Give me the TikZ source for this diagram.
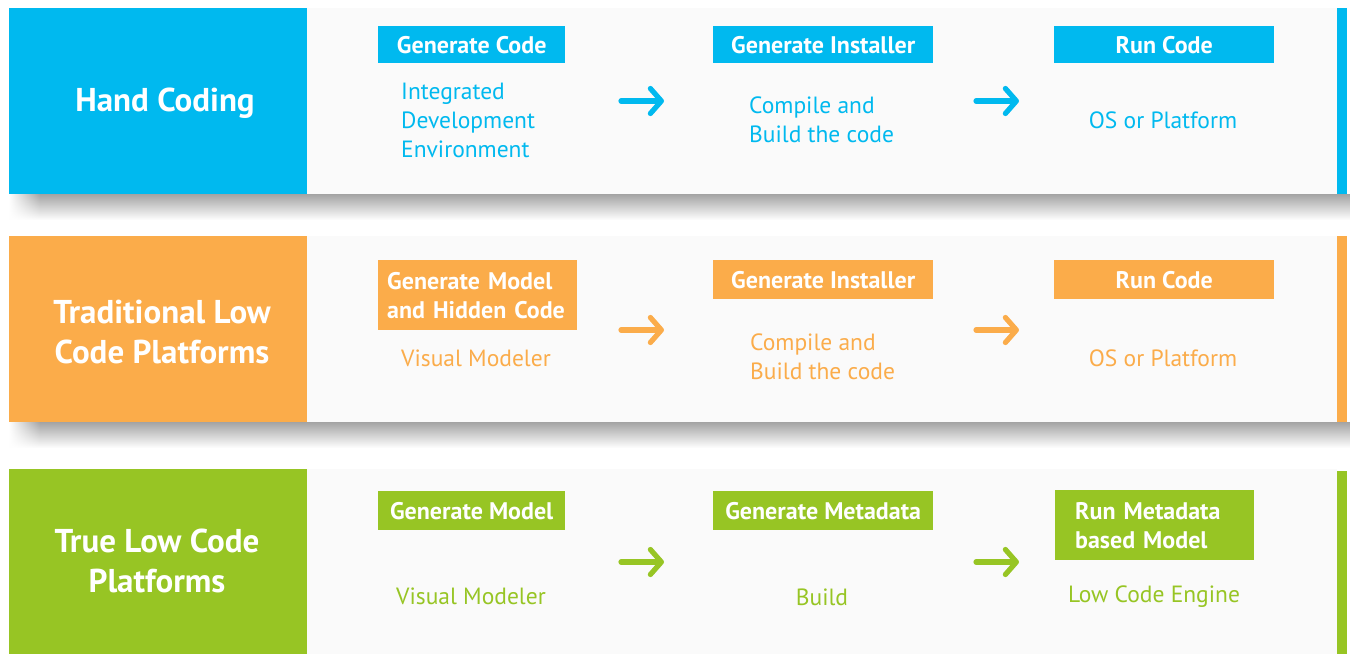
\documentclass[tikz,border=0pt]{standalone}
\usepackage{fontspec}
\setmainfont{PT Sans}
\usetikzlibrary{arrows.meta,fadings}
\definecolor{hcblue}{HTML}{00B9EF}
\definecolor{tlorange}{HTML}{FBAC4A}
\definecolor{tlgreen}{HTML}{97C524}
\definecolor{panelgray}{HTML}{FAFAFA}
\tikzset{
  bandtitle/.style={text=white, font=\fontsize{33}{40}\selectfont\bfseries, align=center, inner sep=0pt},
  stepbox/.style={text=white, font=\fontsize{24}{29}\selectfont\bfseries, minimum height=37, inner sep=0pt, anchor=north west},
  subtext/.style={font=\fontsize{23.5}{29}\selectfont, align=left, inner sep=0pt},
  flowarrow/.style={line width=5.2, line cap=round, -{Straight Barb[length=11pt,width=25pt,line cap=round,line join=round]}},
  shadowband/.style={top color=black!36, middle color=black!10, bottom color=white},
}
\begin{document}
\begin{tikzpicture}[x=1pt,y=-1pt]
\useasboundingbox (0,0) rectangle (1350,654);
\fill[white] (0,0) rectangle (1350,654);
% shadows
\shade[shadowband] (9,194) rectangle (1350,220);
\shade[shadowband] (9,422) rectangle (1350,448);
\fill[white, path fading=east] (9,194) rectangle (40,220);
\fill[white, path fading=east] (9,422) rectangle (40,448);
% band 1
\fill[panelgray] (307,8) rectangle (1337,194);
\fill[hcblue] (9,8) rectangle (307,194);
\fill[hcblue] (1337,8) rectangle (1347,194);
% band 2
\fill[panelgray] (307,236) rectangle (1337,422);
\fill[tlorange] (9,236) rectangle (307,422);
\fill[tlorange] (1337,236) rectangle (1347,422);
% band 3
\fill[panelgray] (307,469) rectangle (1337,654);
\fill[tlgreen] (9,469) rectangle (307,654);
\fill[tlgreen] (1337,471) rectangle (1347,654);

% ---------- band 1
\node[bandtitle] (t1) at (165,103) {Hand Coding};
\node[stepbox, fill=hcblue, minimum width=187] (b11) at (378,26) {Generate Code};
\node[stepbox, fill=hcblue, minimum width=220] (b12) at (713,26) {Generate Installer};
\node[stepbox, fill=hcblue, minimum width=220] (b13) at (1054,26) {Run Code};
\node[subtext, text=hcblue, anchor=west] (s11) at (401,120) {Integrated\\Development\\Environment};
\node[subtext, text=hcblue, anchor=west] (s12) at (749,120) {Compile and\\Build the code};
\node[subtext, text=hcblue] (s13) at (1163,120) {OS or Platform};
\coordinate (a11s) at (621,101); \coordinate (a11e) at (664,101);
\coordinate (a12s) at (976,101); \coordinate (a12e) at (1019,101);
\draw[flowarrow, hcblue] (a11s) -- (a11e);
\draw[flowarrow, hcblue] (a12s) -- (a12e);

% ---------- band 2
\node[bandtitle] (t2) at (162,332) {Traditional Low\\Code Platforms};
\node[stepbox, fill=tlorange, minimum height=70, text width=181, inner xsep=9, align=left] (b21) at (378,260) {Generate Model\\and Hidden Code};
\node[stepbox, fill=tlorange, minimum width=220, minimum height=39] (b22) at (713,260) {Generate Installer};
\node[stepbox, fill=tlorange, minimum width=220, minimum height=39] (b23) at (1054,260) {Run Code};
\node[subtext, text=tlorange] (s21) at (476,358) {Visual Modeler};
\node[subtext, text=tlorange, anchor=west] (s22) at (750,357) {Compile and\\Build the code};
\node[subtext, text=tlorange] (s23) at (1163,358) {OS or Platform};
\coordinate (a21s) at (621,330); \coordinate (a21e) at (664,330);
\coordinate (a22s) at (976,330); \coordinate (a22e) at (1019,330);
\draw[flowarrow, tlorange] (a21s) -- (a21e);
\draw[flowarrow, tlorange] (a22s) -- (a22e);

% ---------- band 3
\node[bandtitle] (t3) at (157,561) {True Low Code\\Platforms};
\node[stepbox, fill=tlgreen, minimum width=187, minimum height=39] (b31) at (378,491) {Generate Model};
\node[stepbox, fill=tlgreen, minimum width=220, minimum height=39] (b32) at (713,491) {Generate Metadata};
\node[stepbox, fill=tlgreen, minimum height=70, text width=159, inner xsep=20, align=left] (b33) at (1055,490) {Run Metadata\\based Model};
\node[subtext, text=tlgreen] (s31) at (471,596) {Visual Modeler};
\node[subtext, text=tlgreen] (s32) at (822,597) {Build};
\node[subtext, text=tlgreen] (s33) at (1154,597) {Low Code Engine};
\coordinate (a31s) at (621,562); \coordinate (a31e) at (664,562);
\coordinate (a32s) at (976,562); \coordinate (a32e) at (1019,562);
\draw[flowarrow, tlgreen] (a31s) -- (a31e);
\draw[flowarrow, tlgreen] (a32s) -- (a32e);
\end{tikzpicture}
\end{document}
